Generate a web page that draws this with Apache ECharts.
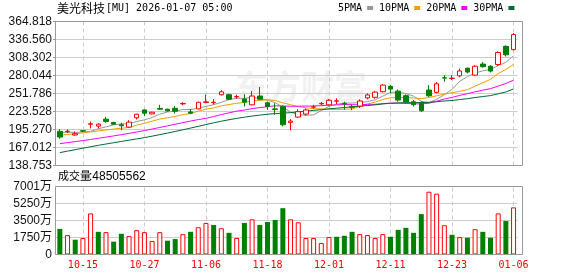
<!DOCTYPE html>
<html><head><meta charset="utf-8">
<script src="https://cdn.jsdelivr.net/npm/echarts@6/dist/echarts.min.js"></script>
<style>html,body{margin:0;padding:0;background:#fff}#c{width:578px;height:276px}</style>
</head><body><div id="c"></div>
<script>
// ---------------- data ----------------
const dates = ['10-10','10-13','10-14','10-15','10-16','10-17','10-20','10-21','10-22','10-23','10-24','10-27','10-28','10-29','10-30','10-31',
  '11-03','11-04','11-05','11-06','11-07','11-10','11-11','11-12','11-13','11-14','11-17','11-18','11-19','11-20','11-21','11-24','11-25','11-26','11-28',
  '12-01','12-02','12-03','12-04','12-05','12-08','12-09','12-10','12-11','12-12','12-15','12-16','12-17','12-18','12-19','12-22','12-23','12-24','12-26','12-29','12-30','12-31',
  '01-02','01-05','01-06'];
const labelDates = ['10-15','10-27','11-06','11-18','12-01','12-11','12-23','01-06'];
const opens  = [192.3,192.0,186.6,193.4,203.6,200.6,211.5,206.3,202.7,199.0,213.6,226.0,219.8,228.1,227.1,228.6,235.5,222.9,227.6,237.8,237.4,249.8,249.9,246.5,243.2,234.0,247.8,237.3,227.6,231.2,206.5,214.8,219.5,230.3,235.5,234.0,239.8,236.3,230.8,232.0,244.8,245.8,254.6,263.0,255.5,248.4,238.8,236.5,257.2,253.6,276.5,275.5,279.5,291.5,280.6,298.0,294.6,297.3,325.8,320.6];
const closes = [183.4,192.6,188.6,192.8,204.2,203.7,207.9,203.7,201.1,206.8,219.3,220.9,222.4,227.1,224.5,224.0,236.2,220.9,238.0,238.6,238.0,254.4,242.8,247.0,238.2,247.8,242.8,231.3,226.8,202.8,208.5,223.3,226.0,231.0,236.2,241.2,240.2,235.6,230.2,240.0,249.5,254.0,265.0,258.8,241.5,238.8,234.2,224.8,248.2,267.0,276.0,275.8,287.2,285.5,294.6,293.8,287.0,316.2,312.5,344.3];
const lows   = [180.8,189.7,185.5,191.2,197.0,197.0,205.8,202.7,194.3,197.5,211.0,216.7,219.3,226.6,223.4,220.3,233.3,219.3,227.1,236.5,234.5,248.6,241.4,243.8,231.5,233.0,241.5,226.0,218.3,200.0,194.0,213.6,217.3,228.0,233.9,232.8,235.0,226.5,225.5,228.8,242.7,243.7,253.6,252.2,239.0,235.5,231.3,222.8,246.5,252.0,270.5,273.0,277.2,283.5,279.0,292.5,284.8,295.0,310.0,319.5];
const highs  = [195.9,195.4,192.3,194.3,207.9,205.3,215.1,207.3,205.8,209.9,219.8,226.6,222.9,233.9,228.1,232.3,238.0,227.1,239.0,250.0,243.2,257.0,251.3,249.8,250.5,255.5,262.0,239.0,236.5,232.8,211.5,227.1,228.6,234.0,238.5,243.2,244.3,239.0,234.5,242.7,252.0,256.1,266.6,265.3,258.0,250.5,241.5,239.5,265.0,269.5,280.6,280.6,291.0,292.5,296.2,301.0,296.2,318.0,327.4,346.5];
const ma5  = [190.8,191.0,190.6,191.4,192.3,196.4,199.4,202.5,204.1,204.6,207.8,210.4,214.1,219.3,222.8,223.8,226.8,226.5,228.7,231.5,234.3,238.0,242.4,244.2,244.1,246.0,243.7,241.4,237.4,230.3,222.4,218.5,217.5,218.3,225.0,231.5,234.9,236.8,236.7,237.4,239.1,241.9,247.7,253.5,253.8,251.6,247.7,239.6,237.5,242.6,250.0,258.4,270.8,278.3,283.8,287.4,289.6,295.4,300.8,310.8];
const ma10 = [186.0,187.5,188.5,190.0,191.5,193.0,194.5,196.0,197.2,198.5,202.1,204.9,208.3,211.7,213.7,215.8,218.6,220.3,224.0,227.2,229.1,232.4,234.5,236.4,237.8,240.2,240.9,241.9,240.8,237.2,234.2,231.1,229.5,227.9,227.7,227.0,226.7,227.2,227.5,231.2,235.3,238.4,242.3,245.1,245.6,245.4,244.8,243.7,245.5,248.2,250.8,253.0,255.2,257.9,263.2,268.7,274.0,283.1,289.6,297.3];
const ma20 = [173.0,174.7,176.3,177.8,179.6,181.5,183.3,185.2,187.2,189.2,191.3,193.5,196.0,198.5,201.0,203.5,206.0,208.5,210.8,212.8,215.6,218.7,221.4,224.1,225.8,228.0,229.7,231.1,232.4,232.2,231.7,231.8,232.0,232.1,232.7,233.6,233.8,234.5,234.1,234.2,234.8,234.8,235.9,236.5,236.6,236.2,235.7,235.4,236.5,239.7,243.1,245.7,248.8,251.5,254.4,257.0,259.4,263.4,267.5,272.7];
const ma30 = [159.0,161.3,163.6,166.0,168.2,170.4,172.5,174.5,176.5,178.5,180.5,182.5,184.8,187.2,189.6,192.2,194.8,197.5,200.2,203.0,205.8,208.3,210.6,212.7,214.6,216.3,217.9,219.2,220.2,221.0,221.8,222.8,224.1,225.3,226.4,227.7,228.7,229.8,230.8,231.9,232.9,234.0,235.4,236.5,237.0,237.5,237.4,237.6,237.9,238.9,240.1,240.8,242.3,243.6,245.5,247.0,248.5,251.3,254.2,258.9];
// volume in 万 shares; 1 = red (up) bar, 0 = green (down) bar
const volumes = [2638,1999,1522,1694,4231,2334,2300,1319,2131,1894,2502,2300,1387,2300,1420,1589,2096,2334,2808,3247,3044,2705,2232,1694,3247,3620,3044,3348,3551,4769,3620,3315,1694,1694,1187,1796,1826,1928,2334,2100,1999,1694,2100,1826,2537,2740,2232,4160,6463,6260,3013,2029,1796,1725,2608,2334,1725,4231,3450,4850.5562];
const volUp   = [0,1,0,1,1,0,1,0,0,1,1,1,1,1,0,0,1,0,1,1,0,1,0,1,0,1,0,0,0,0,1,1,1,1,1,1,0,0,0,1,1,1,1,0,0,0,0,0,1,1,1,0,1,0,1,0,0,1,0,1];
const priceTicks = ['138.753','167.012','195.270','223.528','251.786','280.044','308.302','336.560','364.818'];
const volTicks = ['0','1750万','3500万','5250万','7001万'];
const stockTitle = '美光科技';
const stockSub = '[MU] 2026-01-07 05:00';
const volTitle = '成交量';
const volValue = ':48505562';
const maNames = ['5PMA','10PMA','20PMA','30PMA'];

// ---------------- styling ----------------
const RED = '#ff0000', GREEN = '#008000';
const MA_COLORS = ['#999999','#f0a000','#ff00ff','#006a33'];
const FNUM = '"Liberation Sans", Arial, sans-serif';
const FMONO = '"DejaVu Sans Mono", "Liberation Mono", monospace';
const FCJK = '"Noto Sans CJK SC", sans-serif';
const P_MIN = 138.753, P_MAX = 364.818, P_INT = (P_MAX - P_MIN) / 8;
const V_MAX = 7001, V_INT = V_MAX / 4;

const dashLines = {
  silent: true, symbol: ['none','none'], label: {show: false}, z: 1,
  lineStyle: {type: [4,3], color: '#cccccc', width: 1},
  emphasis: {disabled: true},
  data: labelDates.map(d => ({xAxis: d}))
};

const chart = echarts.init(document.getElementById('c'), null, {renderer: 'canvas'});
const maSeries = [ma5, ma10, ma20, ma30].map((arr, k) => ({
  type: 'line', name: maNames[k], xAxisIndex: 0, yAxisIndex: 0, data: arr,
  symbol: 'none', showSymbol: false, smooth: false, color: MA_COLORS[k],
  lineStyle: {width: 1, color: MA_COLORS[k]}, itemStyle: {color: MA_COLORS[k]}, z: 3
}));

chart.setOption({
  animation: false,
  backgroundColor: '#ffffff',
  legend: {
    left: 338, top: 3, align: 'right', icon: 'rect', itemWidth: 6, itemHeight: 4, itemGap: 6,
    padding: 0, data: maNames,
    textStyle: {fontFamily: FMONO, fontSize: 10, color: '#000'}
  },
  grid: [
    {left: 56, top: 21.5, width: 461.4, height: 144},
    {left: 56, top: 186.5, width: 461.4, height: 68}
  ],
  xAxis: [
    {type: 'category', gridIndex: 0, data: dates, axisLine: {show: false}, axisTick: {show: false},
     axisLabel: {show: false}, splitLine: {show: false}},
    {type: 'category', gridIndex: 1, data: dates, axisLine: {show: false}, axisTick: {show: false},
     axisLabel: {interval: (i) => labelDates.indexOf(dates[i]) >= 0, color: RED, fontFamily: FMONO, fontSize: 10, margin: 6},
     splitLine: {show: false}}
  ],
  yAxis: [
    {type: 'value', gridIndex: 0, min: P_MIN, max: P_MAX, interval: P_INT, scale: true,
     axisLine: {show: false}, axisTick: {show: true, length: 3, lineStyle: {color: '#999'}},
     axisLabel: {color: '#111', fontFamily: FNUM, fontSize: 12, margin: 4,
       formatter: v => priceTicks[Math.round((v - P_MIN) / P_INT)] || ''},
     splitLine: {lineStyle: {color: '#cccccc', width: 1}}},
    {type: 'value', gridIndex: 1, min: 0, max: V_MAX, interval: V_INT,
     axisLine: {show: false}, axisTick: {show: false},
     axisLabel: {color: '#111', fontFamily: FNUM + ',' + FCJK, fontSize: 12, margin: 4,
       formatter: v => volTicks[Math.round(v / V_INT)] || ''},
     splitLine: {lineStyle: {color: '#cccccc', width: 1}}}
  ],
  graphic: [
    {type: 'text', left: 235, top: 70, z: -1, silent: true,
     style: {text: '东方财富', fill: '#f1f1f1', font: 'bold 33px "Noto Sans CJK SC"'}},
    {type: 'rect', silent: true, z: 10, shape: {x: 55.5, y: 21.5, width: 467, height: 144},
     style: {fill: 'none', stroke: '#999999', lineWidth: 1}},
    {type: 'rect', silent: true, z: 10, shape: {x: 55.5, y: 186.5, width: 467, height: 68},
     style: {fill: 'none', stroke: '#999999', lineWidth: 1}},
    {type: 'text', left: 57, top: 2, style: {text: stockTitle, fill: '#000', font: '12px ' + FCJK}},
    {type: 'text', left: 106, top: 3, style: {text: stockSub, fill: '#000', font: '10px ' + FMONO}},
    {type: 'text', left: 58, top: 170, style: {text: volTitle, fill: '#000', font: '11px ' + FCJK}},
    {type: 'text', left: 89, top: 171, style: {text: volValue, fill: '#000', font: '12px ' + FNUM}}
  ],
  series: [
    {type: 'candlestick', name: 'K', xAxisIndex: 0, yAxisIndex: 0, barWidth: 5,
     data: dates.map((d, i) => [opens[i], closes[i], lows[i], highs[i]]),
     itemStyle: {color: '#ffffff', color0: GREEN, borderColor: RED, borderColor0: GREEN, borderWidth: 1},
     markLine: dashLines, z: 4},
    ...maSeries,
    {type: 'bar', name: 'VOL', xAxisIndex: 1, yAxisIndex: 1, barWidth: 5,
     data: volumes.map((v, i) => ({value: v, itemStyle: volUp[i] ? {color: '#ffffff', borderColor: RED, borderWidth: 1} : {color: GREEN}})),
     markLine: dashLines}
  ]
});
</script></body></html>
